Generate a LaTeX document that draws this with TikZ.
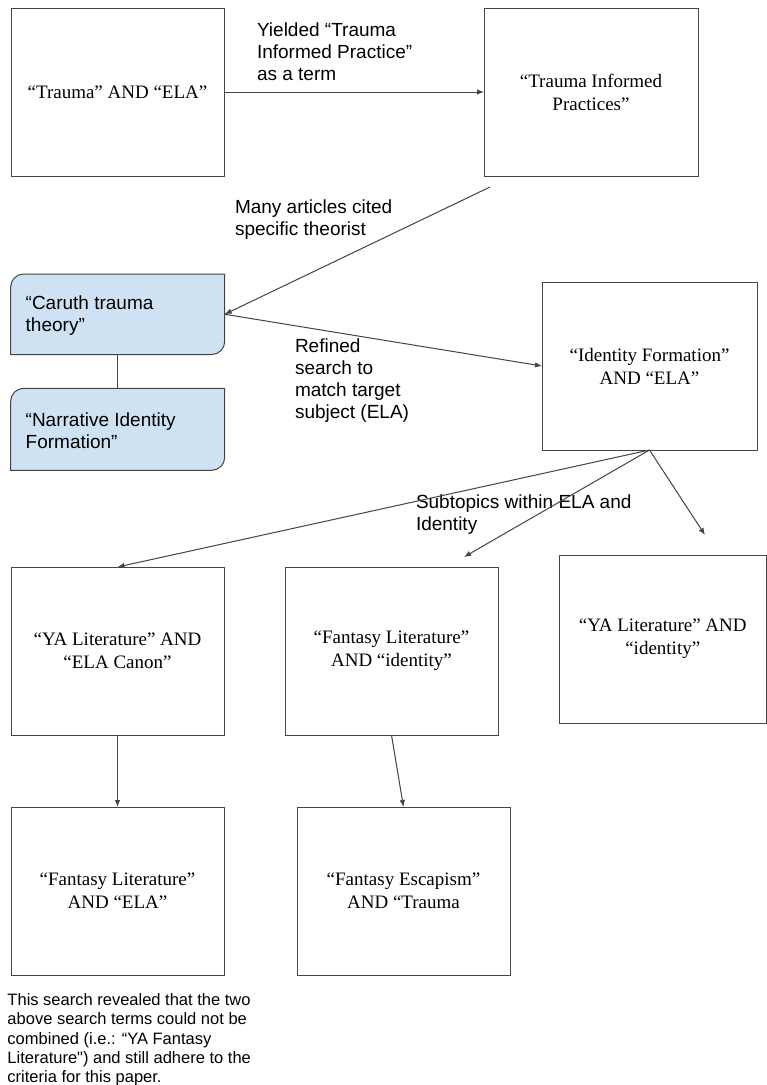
\documentclass[tikz,border=0pt]{standalone}
\usepackage{fontspec}
\setmainfont{Liberation Serif}
\newfontfamily\lsans{Liberation Sans}
\usetikzlibrary{arrows.meta}
\definecolor{bluefill}{HTML}{CFE2F3}
\definecolor{edge}{HTML}{444444}
\begin{document}
\begin{tikzpicture}[x=1pt,y=-1pt,
  box/.style={draw=edge, line width=1, minimum width=213, minimum height=168, anchor=north west, inner sep=0, outer sep=0, align=center, font=\fontsize{19}{23}\selectfont},
  lbl/.style={anchor=north west, inner sep=0, outer sep=0, align=left, font=\lsans\fontsize{19}{21.7}\selectfont},
  note/.style={lbl, font=\lsans\fontsize{16.5}{19.2}\selectfont},
  bluebox/.style={anchor=north west, inner sep=0, outer sep=0, minimum width=214, minimum height=80.5},
  blueshape/.style={draw=edge, line width=1, fill=bluefill},
  arr/.style={draw=edge, line width=1, -{Latex[length=7pt,width=5.5pt]}},
  link/.style={draw=edge, line width=1}]
\useasboundingbox (0,0) rectangle (767,1085);
\fill[white] (0,0) rectangle (767,1085);

% boxes
\node[box] (t1) at (11,8) {“Trauma” AND “ELA”};
\node[box, minimum width=214] (tip) at (484,8) {“Trauma Informed\\Practices”};
\node[box, minimum width=215] (idf) at (542,282) {“Identity Formation”\\AND “ELA”};
\node[box] (yaela) at (11,567) {“YA Literature” AND\\“ELA Canon”};
\node[box] (flid) at (285,567) {“Fantasy Literature”\\AND “identity”};
\node[box, minimum width=207.5] (yaid) at (559,555) {“YA Literature” AND\\“identity”};
\node[box] (flela) at (11,807) {“Fantasy Literature”\\AND “ELA”};
\node[box] (fetr) at (297,807) {“Fantasy Escapism”\\AND “Trauma};

% blue boxes
\node[bluebox] (caruth) at (10.7,274) {};
\node[bluebox, minimum height=82] (narr) at (10.7,388.3) {};
\path[blueshape] (caruth.south west) -- ([yshift=-13pt]caruth.north west) arc[start angle=180, end angle=90, radius=13pt] -- (caruth.north east) -- ([yshift=13pt]caruth.south east) arc[start angle=0, end angle=-90, radius=13pt] -- cycle;
\path[blueshape] (narr.south west) -- ([yshift=-13pt]narr.north west) arc[start angle=180, end angle=90, radius=13pt] -- (narr.north east) -- ([yshift=13pt]narr.south east) arc[start angle=0, end angle=-90, radius=13pt] -- cycle;
\node[lbl] (caruthtxt) at (25.7,296.2) {“Caruth trauma\\theory”};
\node[lbl] (narrtxt) at (25.7,412.9) {“Narrative Identity\\Formation”};

% labels
\node[lbl] (l1) at (257,22.9) {Yielded “Trauma\\Informed Practice”\\as a term};
\node[lbl] (l2) at (235,200.2) {Many articles cited\\specific theorist};
\node[lbl] (l3) at (295,339.2) {Refined\\search to\\match target\\subject (ELA)};
\node[lbl] (l4) at (416,495.2) {Subtopics within ELA and\\Identity};
\node[note] (l5) at (7.5,993.7) {This search revealed that the two\\above search terms could not be\\combined (i.e.: “YA Fantasy\\Literature") and still adhere to the\\criteria for this paper.};

% free ends
\coordinate (s2) at (490,187);
\coordinate (e2) at (464,557);
\coordinate (e3) at (705,535);

% connectors
\draw[arr] (t1.east) -- (tip.west);
\draw[arr] (s2) -- (caruth.east);
\draw[arr] (caruth.east) -- (idf.west);
\draw[arr] (idf.south) -- (yaela.north);
\draw[arr] (idf.south) -- (e2);
\draw[arr] (idf.south) -- (e3);
\draw[arr] (yaela.south) -- (flela.north);
\draw[arr] (flid.south) -- (fetr.north);
\draw[link] (caruth.south) -- (narr.north);
\end{tikzpicture}
\end{document}
